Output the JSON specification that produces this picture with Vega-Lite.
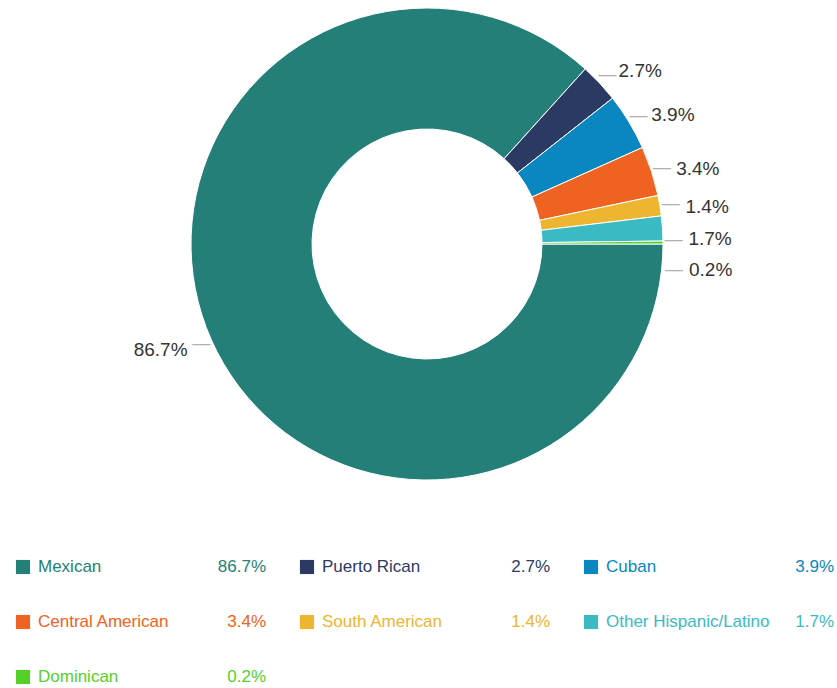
{
  "$schema": "https://vega.github.io/schema/vega-lite/v6.json",
  "padding": {"left": 15, "top": 0, "right": 0, "bottom": 0},
  "spacing": 0,
  "background": "white",
  "config": {"view": {"stroke": null}, "font": "Liberation Sans"},
  "data": {
    "values": [
      {"category": "Mexican", "value": 0.867, "order": 1},
      {"category": "Puerto Rican", "value": 0.027, "order": 2},
      {"category": "Cuban", "value": 0.039, "order": 3},
      {"category": "Central American", "value": 0.034, "order": 4},
      {"category": "South American", "value": 0.014, "order": 5},
      {"category": "Other Hispanic/Latino", "value": 0.017, "order": 6},
      {"category": "Dominican", "value": 0.002, "order": 7}
    ]
  },
  "transform": [
    {"calculate": "format(datum.value, '.1%')", "as": "label"}
  ],
  "vconcat": [
    {
      "width": 822,
      "height": 488,
      "encoding": {
        "theta": {"field": "value", "type": "quantitative", "stack": true, "scale": {"range": [1.5707963, 7.8539816]}},
        "order": {"field": "order", "type": "quantitative"}
      },
      "layer": [
        {
          "mark": {"type": "arc", "radius": 236, "radius2": 115, "stroke": "white", "strokeWidth": 1},
          "encoding": {
            "color": {
              "field": "category", "type": "nominal", "legend": null,
              "scale": {
                "domain": ["Mexican", "Puerto Rican", "Cuban", "Central American", "South American", "Other Hispanic/Latino", "Dominican"],
                "range": ["#237f77", "#2b3a63", "#0a87c0", "#ee6222", "#eeb531", "#3bbac4", "#55cf2a"]
              }
            }
          }
        },
        {
          "mark": {"type": "text", "radius": 247, "fontSize": 18, "color": "#b0b0b0", "align": "center", "baseline": "middle"},
          "encoding": {"text": {"condition": {"test": "datum.category !== 'Other Hispanic/Latino' && datum.category !== 'Dominican'", "value": "—"}, "value": ""}}
        },
        {
          "mark": {"type": "text", "radius": 247, "fontSize": 18, "color": "#b0b0b0", "align": "center", "baseline": "middle", "dy": 12},
          "encoding": {"text": {"condition": {"test": "datum.category === 'Other Hispanic/Latino'", "value": "—"}, "value": ""}}
        },
        {
          "mark": {"type": "text", "radius": 247, "fontSize": 18, "color": "#b0b0b0", "align": "center", "baseline": "middle", "dy": 28},
          "encoding": {"text": {"condition": {"test": "datum.category === 'Dominican'", "value": "—"}, "value": ""}}
        },
        {
          "mark": {"type": "text", "radius": 262, "fontSize": 19, "color": "#333333", "align": "left", "baseline": "middle", "dy": 6},
          "encoding": {
            "text": {"condition": {"test": "datum.category !== 'Mexican' && datum.category !== 'Other Hispanic/Latino' && datum.category !== 'Dominican'", "field": "label"}, "value": ""}
          }
        },
        {
          "mark": {"type": "text", "radius": 262, "fontSize": 19, "color": "#333333", "align": "left", "baseline": "middle", "dy": 12},
          "encoding": {
            "text": {"condition": {"test": "datum.category === 'Other Hispanic/Latino'", "field": "label"}, "value": ""}
          }
        },
        {
          "mark": {"type": "text", "radius": 262, "fontSize": 19, "color": "#333333", "align": "left", "baseline": "middle", "dy": 28},
          "encoding": {
            "text": {"condition": {"test": "datum.category === 'Dominican'", "field": "label"}, "value": ""}
          }
        },
        {
          "mark": {"type": "text", "radius": 262, "fontSize": 19, "color": "#333333", "align": "right", "baseline": "middle"},
          "encoding": {
            "text": {"condition": {"test": "datum.category === 'Mexican'", "field": "label"}, "value": ""}
          }
        }
      ]
    },
    {
      "width": 822,
      "height": 200,
      "transform": [
        {"calculate": "(datum.order - 1) % 3", "as": "col"},
        {"calculate": "floor((datum.order - 1) / 3)", "as": "row"}
      ],
      "encoding": {
        "x": {"field": "col", "type": "quantitative", "axis": null, "scale": {"domain": [0, 2], "range": [7, 575]}},
        "y": {"field": "row", "type": "quantitative", "axis": null, "scale": {"domain": [0, 2], "range": [79, 189]}},
        "color": {
          "field": "category", "type": "nominal", "legend": null,
          "scale": {
            "domain": ["Mexican", "Puerto Rican", "Cuban", "Central American", "South American", "Other Hispanic/Latino", "Dominican"],
            "range": ["#237f77", "#2b3a63", "#0a87c0", "#ee6222", "#eeb531", "#3bbac4", "#55cf2a"]
          }
        }
      },
      "layer": [
        {"mark": {"type": "point", "shape": "square", "filled": true, "opacity": 1, "size": 200}},
        {"mark": {"type": "text", "align": "left", "baseline": "middle", "dx": 15, "fontSize": 17}, "encoding": {"text": {"field": "category"}}},
        {"mark": {"type": "text", "align": "right", "baseline": "middle", "dx": 243, "fontSize": 17}, "encoding": {"text": {"field": "label"}}}
      ]
    }
  ]
}
